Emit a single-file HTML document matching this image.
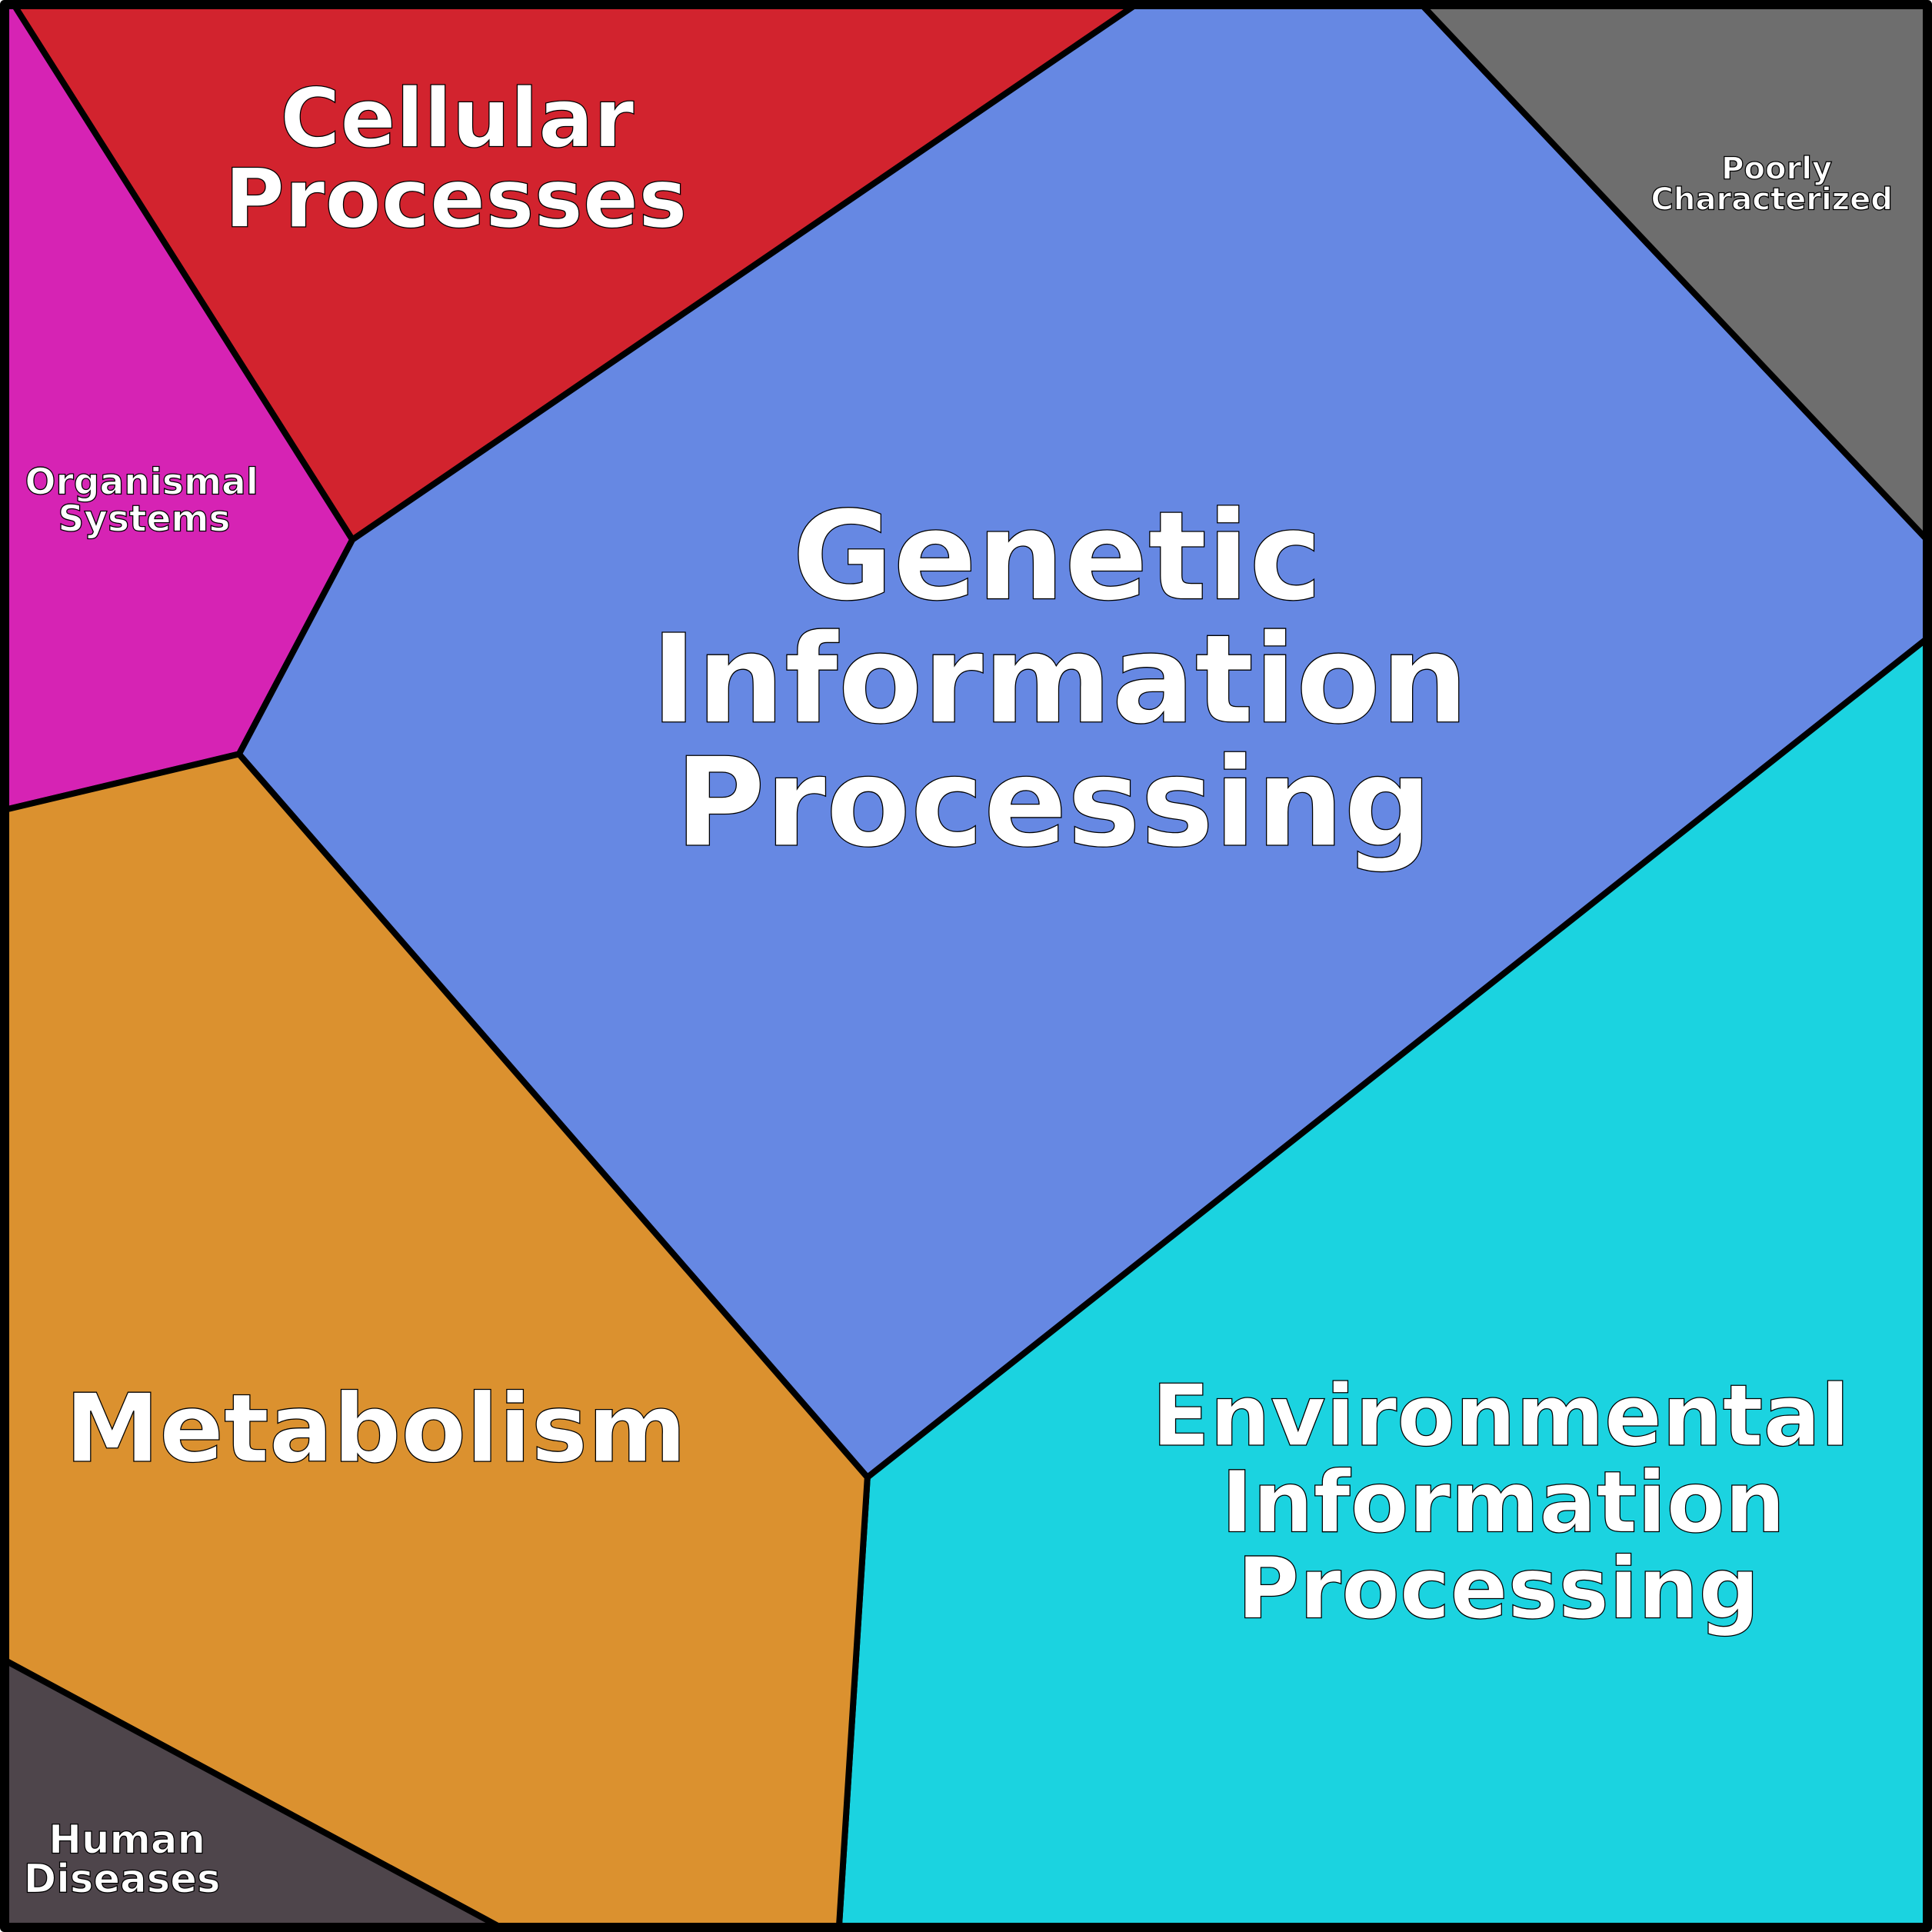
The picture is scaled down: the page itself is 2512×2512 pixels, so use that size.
<!DOCTYPE html>
<html><head><meta charset="utf-8"><style>html,body{margin:0;padding:0;background:#fff}svg{display:block}</style></head>
<body>
<svg width="2512" height="2512" viewBox="0 0 1568 1568" xmlns="http://www.w3.org/2000/svg">
<g stroke="#000" stroke-width="5" stroke-linejoin="round">
<polygon fill="#d2232e" points="12,5 920,5 286,438"/>
<polygon fill="#d623b4" points="5,5 12,5 286,438 194,612 5,657"/>
<polygon fill="#6688e3" points="920,5 1155,5 1563,437 1563,519 704,1199 194,612 286,438"/>
<polygon fill="#6e6e6e" points="1155,5 1563,5 1563,437"/>
<polygon fill="#1bd3e0" points="1563,519 1563,1563 681,1563 704,1199"/>
<polygon fill="#db912f" points="5,657 194,612 704,1199 681,1563 404,1563 5,1348"/>
<polygon fill="#4e454b" points="5,1348 404,1563 5,1563"/>
<rect x="3.5" y="3.5" width="1561" height="1561" fill="none" stroke-width="7"/>
</g>
<g font-family="'DejaVu Sans','Liberation Sans',sans-serif" font-weight="bold" fill="#fff" stroke="#000" stroke-width="0.8" text-anchor="middle">
<text font-size="100" x="858" y="486">Genetic</text>
<text font-size="100" x="860" y="586">Information</text>
<text font-size="100" x="855" y="686">Processing</text>
<text font-size="66.5" x="371" y="119">Cellular</text>
<text font-size="66.5" x="370" y="184">Processes</text>
<text font-size="77" x="305" y="1186">Metabolism</text>
<text font-size="69" x="1218" y="1173">Environmental</text>
<text font-size="69" x="1220" y="1243">Information</text>
<text font-size="69" x="1216" y="1313">Processing</text>
<text font-size="25" x="1442" y="145">Poorly</text>
<text font-size="25" x="1438" y="170">Characterized</text>
<text font-size="29.4" x="115" y="401">Organismal</text>
<text font-size="29.4" x="117" y="431">Systems</text>
<text font-size="32" x="103" y="1504">Human</text>
<text font-size="32" x="99" y="1536">Diseases</text>
</g>
</svg>
</body></html>
